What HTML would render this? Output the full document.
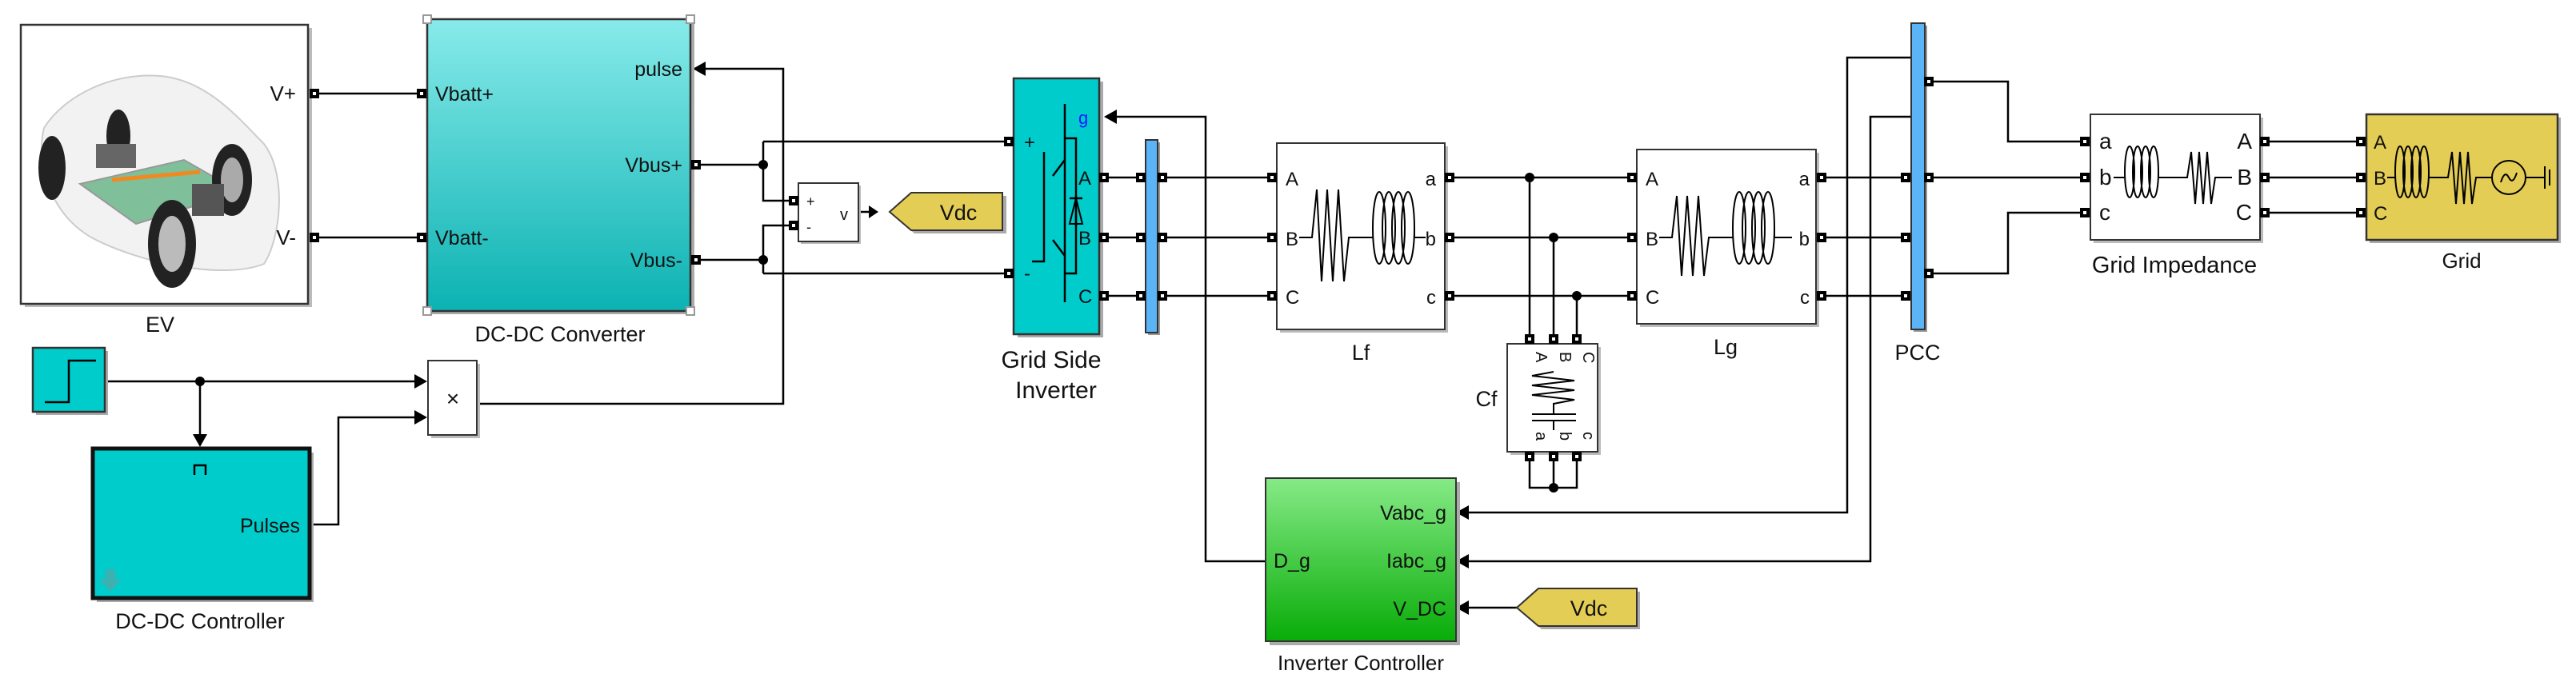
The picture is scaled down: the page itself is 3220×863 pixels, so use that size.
<!DOCTYPE html>
<html><head><meta charset="utf-8"><style>
html,body{margin:0;padding:0;background:#fff}
svg{display:block}
text{font-family:"Liberation Sans",Arial,sans-serif;fill:#111}
</style></head><body>
<svg width="3220" height="863" viewBox="0 0 3220 863" xmlns="http://www.w3.org/2000/svg">
<defs>
<linearGradient id="gc" x1="0" y1="0" x2="0" y2="1"><stop offset="0" stop-color="#88eaea"/><stop offset="1" stop-color="#0cb2b2"/></linearGradient>
<linearGradient id="gg" x1="0" y1="0" x2="0" y2="1"><stop offset="0" stop-color="#86ea86"/><stop offset="1" stop-color="#08ac08"/></linearGradient>
<g id="p"><rect x="-6" y="-6" width="12" height="12" fill="#000"/><rect x="-2" y="-2" width="4" height="4" fill="#fff"/></g>
</defs>
<g stroke="#000" stroke-width="2.5" fill="none">
<!-- wires -->
<path d="M393 117H527M393 297H527"/>
<path d="M875 206H954M875 325H954"/>
<path d="M954 177V251H992M954 342V282H992"/>
<path d="M954 177H1261M954 342H1261"/>
<path d="M880 86H979V505H596"/>
<path d="M131 477H520M250 477V545"/>
<path d="M387 656H423V522H520"/>
<path d="M1073 265H1095"/>
<path d="M1395 146H1507V702H1583"/>
<path d="M1380 222H1426M1380 297H1426M1380 370H1426"/>
<path d="M1453 222H1590M1453 297H1590M1453 370H1590"/>
<path d="M1812 222H2040M1812 297H2040M1812 370H2040"/>
<path d="M1912 222V424M1942 297V424M1971 370V424"/>
<path d="M1912 571V610H1971V571M1942 571V610"/>
<path d="M2277 222H2376M2277 297H2376M2277 370H2376"/>
<path d="M2398 72H2309V641H1835M2398 146H2338V702H1835"/>
<path d="M1896 760H1835"/>
<path d="M2411 102H2510V177H2600M2411 222H2600M2411 342H2510V266H2600"/>
<path d="M2831 177H2945M2831 222H2945M2831 266H2945"/>
</g>
<!-- junction dots -->
<g fill="#000">
<circle cx="954" cy="206" r="6"/><circle cx="954" cy="325" r="6"/><circle cx="250" cy="477" r="6"/>
<circle cx="1912" cy="222" r="6"/><circle cx="1942" cy="297" r="6"/><circle cx="1971" cy="370" r="6"/><circle cx="1942" cy="610" r="6"/>
<!-- arrowheads -->
<path d="M866 86l16-9v18z"/><path d="M534 477l-16-9v18z"/><path d="M534 522l-16-9v18z"/>
<path d="M250 559l-9-16h18z"/><path d="M1380 146l16-9v18z"/>
<path d="M1820 641l16-9v18z"/><path d="M1820 702l16-9v18z"/><path d="M1820 760l16-9v18z"/>
<path d="M1098 265l-12-8v16z"/>
</g>
<!-- EV -->
<rect x="31" y="35" width="359" height="349" fill="#bbb"/>
<rect x="26" y="31" width="359" height="349" fill="#fff" stroke="#333" stroke-width="2.5"/>
<g>
<path d="M55 160C80 120 140 90 200 95C260 100 300 150 330 180C360 220 350 300 330 330C280 350 180 330 120 300C60 270 45 200 55 160Z" fill="#f2f2f2" stroke="#ccc" stroke-width="2"/>
<path d="M100 230L230 200L300 240L170 280Z" fill="#7fbf9a" stroke="#999" stroke-width="2"/>
<path d="M140 225L250 215" stroke="#f08a20" stroke-width="5"/>
<ellipse cx="65" cy="210" rx="17" ry="40" fill="#222"/><ellipse cx="148" cy="170" rx="15" ry="33" fill="#222"/>
<ellipse cx="215" cy="305" rx="30" ry="55" fill="#222"/><ellipse cx="215" cy="305" rx="17" ry="35" fill="#bbb"/>
<ellipse cx="290" cy="225" rx="25" ry="45" fill="#222"/><ellipse cx="290" cy="225" rx="14" ry="28" fill="#aaa"/>
<rect x="120" y="180" width="50" height="30" fill="#666"/><rect x="240" y="230" width="40" height="40" fill="#555"/>
</g>
<text x="370" y="126" font-size="26" text-anchor="end">V+</text>
<text x="370" y="306" font-size="26" text-anchor="end">V-</text>
<text x="200" y="415" font-size="27" text-anchor="middle">EV</text>
<use href="#p" x="393" y="117"/><use href="#p" x="393" y="297"/>
<!-- DC-DC converter -->
<rect x="539" y="28" width="329" height="365" fill="#aaa"/>
<rect x="534" y="24" width="329" height="365" fill="url(#gc)" stroke="#333" stroke-width="2.5"/>
<g fill="#fff" stroke="#999" stroke-width="2"><rect x="529" y="19" width="10" height="10"/><rect x="858" y="19" width="10" height="10"/><rect x="529" y="384" width="10" height="10"/><rect x="858" y="384" width="10" height="10"/></g>
<text x="544" y="126" font-size="25">Vbatt+</text>
<text x="544" y="306" font-size="25">Vbatt-</text>
<text x="853" y="95" font-size="25" text-anchor="end">pulse</text>
<text x="853" y="215" font-size="25" text-anchor="end">Vbus+</text>
<text x="853" y="334" font-size="25" text-anchor="end">Vbus-</text>
<use href="#p" x="527" y="117"/><use href="#p" x="527" y="297"/><use href="#p" x="870" y="206"/><use href="#p" x="870" y="325"/>
<text x="700" y="427" font-size="27" text-anchor="middle">DC-DC Converter</text>
<!-- Voltage meas -->
<rect x="1001" y="232" width="75" height="73" fill="#bbb"/>
<rect x="998" y="229" width="75" height="73" fill="#fff" stroke="#333" stroke-width="2"/>
<text x="1008" y="258" font-size="18">+</text><text x="1008" y="290" font-size="18">-</text><text x="1050" y="275" font-size="20">v</text>
<use href="#p" x="992" y="251"/><use href="#p" x="992" y="282"/>
<!-- Vdc tags -->
<path d="M1116 269L1143 245H1258V292H1143Z" fill="#aaa"/>
<path d="M1112 265L1139 241H1253V288H1139Z" fill="#e4cd55" stroke="#333" stroke-width="2"/>
<text x="1198" y="275" font-size="27" text-anchor="middle">Vdc</text>
<path d="M1900 764L1927 740H2050V787H1927Z" fill="#aaa"/>
<path d="M1896 760L1923 736H2046V783H1923Z" fill="#e4cd55" stroke="#333" stroke-width="2"/>
<text x="1986" y="770" font-size="27" text-anchor="middle">Vdc</text>
<!-- Step -->
<rect x="45" y="439" width="90" height="80" fill="#aaa"/>
<rect x="41" y="435" width="90" height="80" fill="#00cccc" stroke="#333" stroke-width="2.5"/>
<path d="M56 503H86V451H120" stroke="#000" stroke-width="2.5" fill="none"/>
<!-- Product -->
<rect x="539" y="455" width="61" height="93" fill="#bbb"/>
<rect x="535" y="451" width="61" height="93" fill="#fff" stroke="#333" stroke-width="2"/>
<text x="566" y="508" font-size="28" text-anchor="middle">×</text>
<!-- DC-DC controller -->
<rect x="121" y="566" width="271" height="187" fill="#aaa"/>
<rect x="116" y="561" width="271" height="187" fill="#00cccc" stroke="#111" stroke-width="5"/>
<path d="M243 594V582H257V594" stroke="#000" stroke-width="2.5" fill="none"/>
<text x="375" y="666" font-size="25" text-anchor="end">Pulses</text>
<path d="M132 712h12v12h8l-14 16-14-16h8z" fill="#3fb0b0"/>
<text x="250" y="786" font-size="27" text-anchor="middle">DC-DC Controller</text>
<!-- Inverter -->
<rect x="1272" y="102" width="107" height="320" fill="#aaa"/>
<rect x="1267" y="98" width="107" height="320" fill="#00cccc" stroke="#333" stroke-width="2.5"/>
<g stroke="#000" stroke-width="2.5" fill="none">
<path d="M1331 130V378"/><path d="M1305 190V327H1290"/><path d="M1316 220L1331 200"/><path d="M1316 300L1331 320"/>
<path d="M1331 173H1345V342H1331"/><path d="M1345 245V282M1337 248H1353"/>
</g>
<path d="M1345 248L1337 280H1353Z" fill="none" stroke="#000" stroke-width="2"/>
<text x="1280" y="186" font-size="24">+</text><text x="1280" y="350" font-size="24">-</text>
<text x="1348" y="155" font-size="22" fill="#1a1aff" style="fill:#1a1aff">g</text>
<text x="1348" y="231" font-size="24">A</text><text x="1348" y="306" font-size="24">B</text><text x="1348" y="379" font-size="24">C</text>
<use href="#p" x="1261" y="177"/><use href="#p" x="1261" y="342"/>
<use href="#p" x="1380" y="222"/><use href="#p" x="1380" y="297"/><use href="#p" x="1380" y="370"/>
<text x="1314" y="460" font-size="30" text-anchor="middle">Grid Side</text>
<text x="1320" y="498" font-size="30" text-anchor="middle">Inverter</text>
<!-- bus bar 1 -->
<rect x="1435" y="178" width="15" height="241" fill="#999"/>
<rect x="1432" y="175" width="15" height="241" fill="#5ab4f5" stroke="#333" stroke-width="2"/>
<use href="#p" x="1426" y="222"/><use href="#p" x="1426" y="297"/><use href="#p" x="1426" y="370"/>
<use href="#p" x="1453" y="222"/><use href="#p" x="1453" y="297"/><use href="#p" x="1453" y="370"/>
<!-- Lf -->
<rect x="1600" y="183" width="210" height="233" fill="#bbb"/>
<rect x="1596" y="179" width="210" height="233" fill="#fff" stroke="#333" stroke-width="2"/>
<text x="1607" y="232" font-size="24">A</text><text x="1607" y="307" font-size="24">B</text><text x="1607" y="380" font-size="24">C</text>
<text x="1795" y="232" font-size="24" text-anchor="end">a</text><text x="1795" y="307" font-size="24" text-anchor="end">b</text><text x="1795" y="380" font-size="24" text-anchor="end">c</text>
<g stroke="#000" stroke-width="2" fill="none">
<path d="M1624 297H1640L1646 237L1652 352L1659 237L1666 352L1673 237L1680 352L1686 297H1716"/>
<ellipse cx="1724" cy="285" rx="8" ry="45"/><ellipse cx="1736" cy="285" rx="8" ry="45"/><ellipse cx="1748" cy="285" rx="8" ry="45"/><ellipse cx="1760" cy="285" rx="8" ry="45"/>
<path d="M1768 285V297H1782"/>
</g>
<use href="#p" x="1590" y="222"/><use href="#p" x="1590" y="297"/><use href="#p" x="1590" y="370"/>
<use href="#p" x="1812" y="222"/><use href="#p" x="1812" y="297"/><use href="#p" x="1812" y="370"/>
<text x="1701" y="450" font-size="27" text-anchor="middle">Lf</text>
<!-- Cf -->
<rect x="1888" y="434" width="113" height="135" fill="#bbb"/>
<rect x="1884" y="430" width="113" height="135" fill="#fff" stroke="#333" stroke-width="2"/>
<g font-size="20">
<text transform="translate(1920,440) rotate(90)">A</text><text transform="translate(1950,440) rotate(90)">B</text><text transform="translate(1979,440) rotate(90)">C</text>
<text transform="translate(1920,540) rotate(90)">a</text><text transform="translate(1950,540) rotate(90)">b</text><text transform="translate(1979,540) rotate(90)">c</text>
</g>
<g stroke="#000" stroke-width="2" fill="none">
<path d="M1942 465L1915 470L1968 476L1915 482L1968 488L1915 494L1968 500L1942 505V518M1915 518H1970M1915 526H1970M1942 526V538"/>
</g>
<use href="#p" x="1912" y="424"/><use href="#p" x="1942" y="424"/><use href="#p" x="1971" y="424"/>
<use href="#p" x="1912" y="571"/><use href="#p" x="1942" y="571"/><use href="#p" x="1971" y="571"/>
<text x="1858" y="508" font-size="27" text-anchor="middle">Cf</text>
<!-- Lg -->
<rect x="2050" y="191" width="224" height="218" fill="#bbb"/>
<rect x="2046" y="187" width="224" height="218" fill="#fff" stroke="#333" stroke-width="2"/>
<text x="2057" y="232" font-size="24">A</text><text x="2057" y="307" font-size="24">B</text><text x="2057" y="380" font-size="24">C</text>
<text x="2262" y="232" font-size="24" text-anchor="end">a</text><text x="2262" y="307" font-size="24" text-anchor="end">b</text><text x="2262" y="380" font-size="24" text-anchor="end">c</text>
<g stroke="#000" stroke-width="2" fill="none">
<path d="M2074 297H2090L2096 245L2102 345L2109 245L2116 345L2123 245L2130 345L2136 297H2166"/>
<ellipse cx="2174" cy="285" rx="8" ry="45"/><ellipse cx="2186" cy="285" rx="8" ry="45"/><ellipse cx="2198" cy="285" rx="8" ry="45"/><ellipse cx="2210" cy="285" rx="8" ry="45"/>
<path d="M2218 285V297H2240"/>
</g>
<use href="#p" x="2040" y="222"/><use href="#p" x="2040" y="297"/><use href="#p" x="2040" y="370"/>
<use href="#p" x="2277" y="222"/><use href="#p" x="2277" y="297"/><use href="#p" x="2277" y="370"/>
<text x="2157" y="443" font-size="27" text-anchor="middle">Lg</text>
<!-- PCC -->
<rect x="2392" y="32" width="17" height="383" fill="#999"/>
<rect x="2389" y="29" width="17" height="383" fill="#5ab4f5" stroke="#333" stroke-width="2"/>
<use href="#p" x="2382" y="222"/><use href="#p" x="2382" y="297"/><use href="#p" x="2382" y="370"/>
<use href="#p" x="2411" y="102"/><use href="#p" x="2411" y="222"/><use href="#p" x="2411" y="342"/>
<text x="2397" y="450" font-size="27" text-anchor="middle">PCC</text>
<!-- Grid impedance -->
<rect x="2617" y="147" width="212" height="157" fill="#bbb"/>
<rect x="2613" y="143" width="212" height="157" fill="#fff" stroke="#333" stroke-width="2"/>
<text x="2624" y="186" font-size="28">a</text><text x="2624" y="231" font-size="28">b</text><text x="2624" y="275" font-size="28">c</text>
<text x="2815" y="186" font-size="28" text-anchor="end">A</text><text x="2815" y="231" font-size="28" text-anchor="end">B</text><text x="2815" y="275" font-size="28" text-anchor="end">C</text>
<g stroke="#000" stroke-width="2" fill="none">
<path d="M2642 222H2656"/>
<ellipse cx="2662" cy="215" rx="6" ry="32"/><ellipse cx="2672" cy="215" rx="6" ry="32"/><ellipse cx="2682" cy="215" rx="6" ry="32"/><ellipse cx="2692" cy="215" rx="6" ry="32"/>
<path d="M2698 215V222H2734L2739 190L2744 255L2749 190L2754 255L2759 190L2764 255L2769 222H2790"/>
</g>
<use href="#p" x="2606" y="177"/><use href="#p" x="2606" y="222"/><use href="#p" x="2606" y="266"/>
<use href="#p" x="2831" y="177"/><use href="#p" x="2831" y="222"/><use href="#p" x="2831" y="266"/>
<text x="2718" y="341" font-size="29" text-anchor="middle">Grid Impedance</text>
<!-- Grid -->
<rect x="2962" y="147" width="239" height="157" fill="#aaa"/>
<rect x="2958" y="143" width="239" height="157" fill="#e4cd55" stroke="#333" stroke-width="2.5"/>
<text x="2967" y="186" font-size="24">A</text><text x="2967" y="231" font-size="24">B</text><text x="2967" y="275" font-size="24">C</text>
<g stroke="#000" stroke-width="2" fill="none">
<path d="M2984 222H2994"/>
<ellipse cx="3000" cy="215" rx="6" ry="32"/><ellipse cx="3010" cy="215" rx="6" ry="32"/><ellipse cx="3020" cy="215" rx="6" ry="32"/><ellipse cx="3030" cy="215" rx="6" ry="32"/>
<path d="M3036 215V222H3060L3065 190L3070 255L3075 190L3080 255L3085 190L3090 255L3095 222H3115"/>
<circle cx="3136" cy="222" r="21"/><path d="M3126 228Q3131 212 3136 222T3146 216"/>
<path d="M3157 222H3181M3181 208V236M3187 212V232"/>
</g>
<use href="#p" x="2951" y="177"/><use href="#p" x="2951" y="222"/><use href="#p" x="2951" y="266"/>
<text x="3077" y="335" font-size="26" text-anchor="middle">Grid</text>
<!-- Inverter controller -->
<rect x="1587" y="603" width="238" height="204" fill="#aaa"/>
<rect x="1582" y="598" width="238" height="204" fill="url(#gg)" stroke="#333" stroke-width="2"/>
<text x="1808" y="650" font-size="25" text-anchor="end">Vabc_g</text>
<text x="1808" y="710" font-size="25" text-anchor="end">Iabc_g</text>
<text x="1808" y="770" font-size="25" text-anchor="end">V_DC</text>
<text x="1592" y="710" font-size="25">D_g</text>
<text x="1701" y="838" font-size="26" text-anchor="middle">Inverter Controller</text>
</svg>
</body></html>
